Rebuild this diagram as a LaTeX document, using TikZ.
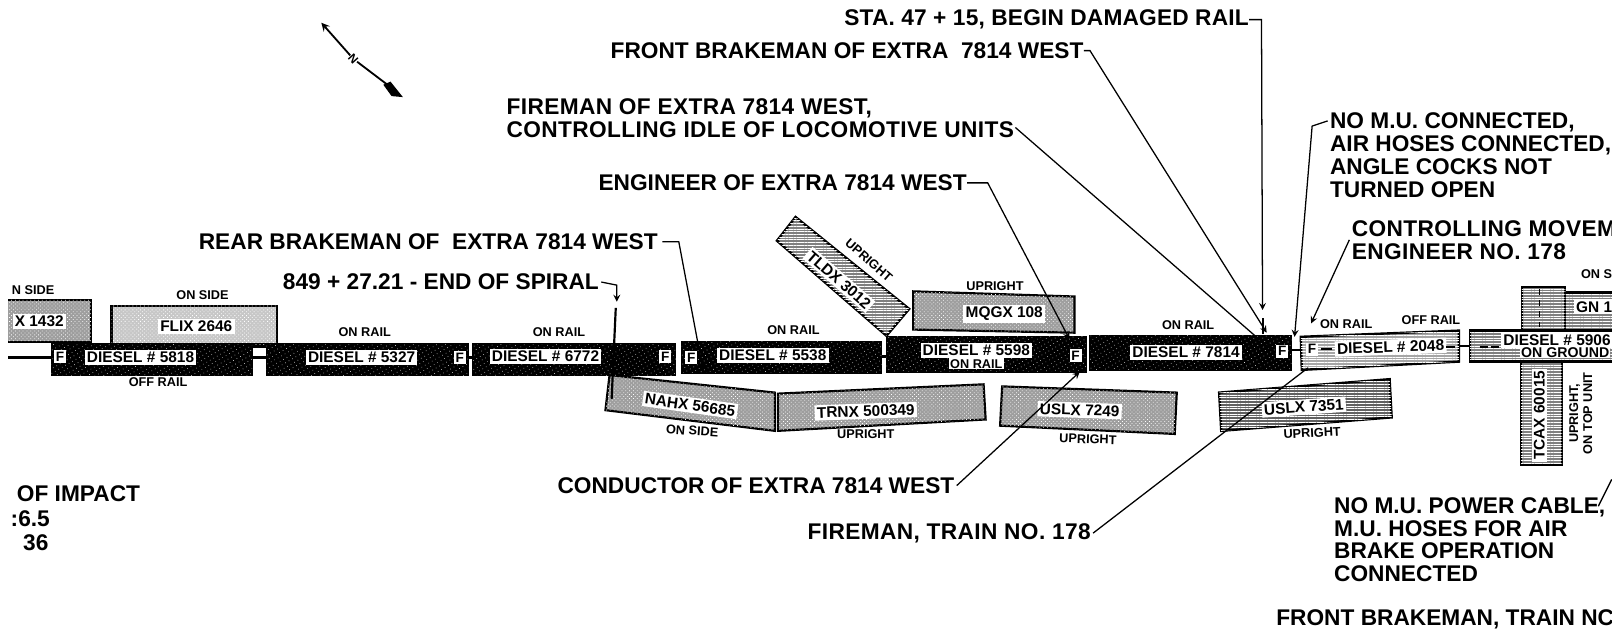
\documentclass[tikz,border=0pt]{standalone}
\usepackage{fontspec}
\usetikzlibrary{patterns.meta}
\setmainfont{Liberation Sans}
\begin{document}
\begin{tikzpicture}[x=0.02cm, y=-0.02cm, font=\bfseries,
  lbl/.style={inner sep=0pt, align=left, font=\bfseries\fontsize{12.5}{12.6}\selectfont},
  wide/.style={lbl, font=\bfseries\fontsize{12.5}{12.6}\selectfont\addfontfeature{LetterSpace=1.7}},
  stat/.style={inner sep=0pt, align=center, font=\bfseries\fontsize{7}{7.6}\selectfont},
  tag/.style={fill=white, inner sep=1.2pt, font=\bfseries\fontsize{8.5}{8.7}\selectfont},
  fbox/.style={fill=white, inner sep=1pt, font=\bfseries\fontsize{7.5}{8}\selectfont},
  dark/.style={draw=black, line width=0.8pt, fill=black,
               postaction={pattern={Dots[radius=0.22pt, distance=2.2pt, angle=30]}, pattern color=white}},
  shade/.style={draw=black, line width=1.2pt, fill=black!38,
                postaction={pattern={Dots[radius=0.3pt, distance=1.5pt, angle=45]}, pattern color=white}},
  pale/.style={draw=black, line width=1.2pt, fill=black!22,
               postaction={pattern={Dots[radius=0.32pt, distance=1.5pt, angle=45]}, pattern color=white}},
  hatch/.style={draw=black, line width=1.3pt, fill=black!50,
                postaction={pattern={Lines[distance=1.5pt, line width=0.5pt]}, pattern color=white}},
  lead/.style={draw=black, line width=0.7pt},
]
  \useasboundingbox (0,0) rectangle (1568,622.3);

  % rail and couplings
  \draw[line width=1.3pt] (8,346) -- (50,346);
  \draw[line width=1.3pt] (244,346) -- (258,346);
  \fill (244,333) rectangle (258,337);
  \draw[line width=1.3pt] (1250,339) -- (1260,339);
  \draw[line width=1.3pt] (1412,335) -- (1424,335);
  \draw[line width=1.3pt] (453,346) -- (458,346);
  \draw[line width=1.3pt] (853,345) -- (858,345);

  % derailed cars
  \draw[shade] (8,290) -- (88,290) -- (88,331) -- (8,331);
  \node[tag] (x1432) at (38,311) {X 1432};
  \node[stat] (s1432) at (32,281) {N SIDE};
  \draw[pale] (108,296) rectangle (268,333);
  \node[tag] (flix) at (190,316) {FLIX 2646};
  \node[stat] (sflix) at (196,286) {ON SIDE};
  \draw[hatch] (770,210) -- (880,299) -- (858,325) -- (752,233) -- cycle;
  \node[tag, rotate=-41] (tldx) at (812,271) {TLDX 3012};
  \node[stat, rotate=-41] (stldx) at (841,252) {UPRIGHT};
  \draw[shade] (884,282) -- (1040,287) -- (1040,322) -- (884,319) -- cycle;
  \node[tag] (mqgx) at (972,304) {MQGX 108};
  \node[stat] (smqgx) at (963,277) {UPRIGHT};
  \draw[shade] (590,363) -- (750,380) -- (750,417) -- (586,397) -- cycle;
  \node[tag, rotate=-8] (nahx) at (668,392) {NAHX 56685};
  \node[stat, rotate=-4] (snahx) at (670,417) {ON SIDE};
  \draw[shade] (753,381) -- (952,372) -- (954,406) -- (753,417) -- cycle;
  \node[tag, rotate=2] (trnx) at (838,398) {TRNX 500349};
  \node[stat] (strnx) at (838,420) {UPRIGHT};
  \draw[shade] (970,374) -- (1139,380) -- (1137,420) -- (968,412) -- cycle;
  \node[tag, rotate=-2] (usa) at (1045,397) {USLX 7249};
  \node[stat, rotate=-2] (susa) at (1053,425) {UPRIGHT};
  \draw[hatch, fill=black!62] (1180,380) -- (1345,367) -- (1347,404) -- (1182,417) -- cycle;
  \node[tag, rotate=4] (usb) at (1262,394) {USLX 7351};
  \node[stat, rotate=3] (susb) at (1270,419) {UPRIGHT};

  % locomotives
  \draw[dark] (50,333) rectangle (244,363);
  \node[tag] (d5818) at (136,346) {DIESEL \# 5818};
  \node[fbox] (f5818) at (58,345) {F};
  \node[stat] (s5818) at (153,370) {OFF RAIL};
  \draw[dark] (258,333) rectangle (453,363);
  \node[tag] (d5327) at (350,346) {DIESEL \# 5327};
  \node[fbox] (f5327) at (445,346) {F};
  \node[stat] (s5327) at (353,321) {ON RAIL};
  \draw[dark] (458,333) rectangle (654,363);
  \node[tag] (d6772) at (528,345) {DIESEL \# 6772};
  \node[fbox] (f6772) at (644,345) {F};
  \node[stat] (s6772) at (541,321) {ON RAIL};
  \draw[dark] (660,331) rectangle (853,361);
  \node[tag] (d5538) at (748,344) {DIESEL \# 5538};
  \node[fbox] (f5538) at (669,346) {F};
  \node[stat] (s5538) at (768,320) {ON RAIL};
  \draw[dark] (858,326) rectangle (1051,360);
  \node[tag] (d5598) at (945,339) {DIESEL \# 5598};
  \node[tag, inner sep=0.6pt, font=\bfseries\fontsize{7}{7.6}\selectfont] (s5598) at (945,352) {ON RAIL};
  \node[fbox] (f5598) at (1041,344) {F};
  \draw[dark] (1055,325) rectangle (1250,358);
  \node[tag] (d7814) at (1148,341) {DIESEL \# 7814};
  \node[fbox] (f7814) at (1241,340) {F};
  \node[stat] (s7814) at (1150,315) {ON RAIL};
  \draw[hatch, fill=black!35] (1259,326) -- (1412,320) -- (1412,350) -- (1260,358) -- cycle;
  \node[tag, rotate=2] (d2048) at (1346,336) {DIESEL \# 2048};
  \node[fbox] (f2048) at (1270,338) {F};
  \node[stat] (s2048) at (1303,314) {ON RAIL};
  \node[stat] (t2048) at (1385,310) {OFF RAIL};
  \draw[line width=1.2pt] (1279,338) -- (1289,338);
  \draw[line width=1.2pt] (1400,336) -- (1408,336);

  % pile-up at the right
  \draw[hatch] (1483,283) rectangle (1575,325);
  \node[tag] (gn) at (1543,297) {GN 1};
  \node[stat] (sgn) at (1547,265) {ON SI};
  \draw[hatch] (1473,278) rectangle (1515,320);
  \draw[dashed, line width=1pt] (1490,280) -- (1490,318);
  \draw[hatch] (1472,350) rectangle (1512,450);
  \node[tag, rotate=90] (tcax) at (1490,402) {TCAX 60015};
  \node[stat, rotate=90] (stcax) at (1530,400) {UPRIGHT,\\ON TOP UNIT};
  \draw[hatch] (1423,320) rectangle (1575,350);
  \draw[line width=1.2pt] (1432,336) -- (1440,336);
  \draw[line width=1.2pt] (1443,336) -- (1451,336);
  \node[tag] (d5906) at (1507,329) {DIESEL \# 5906};
  \node[tag, inner sep=0.6pt, font=\bfseries\fontsize{7.8}{8}\selectfont] (g5906) at (1515,341) {ON GROUND};

  % captions
  \node[lbl, anchor=east, font=\bfseries\fontsize{12.5}{12.6}\selectfont\addfontfeature{LetterSpace=0.8}] (sta) at (1209,19) {STA. 47 + 15, BEGIN DAMAGED RAIL};
  \node[lbl, anchor=east] (fbr) at (1049,49) {FRONT BRAKEMAN OF EXTRA \ 7814 WEST};
  \node[wide, anchor=north west] (fir) at (490,95) {FIREMAN OF EXTRA 7814 WEST,\\CONTROLLING IDLE OF LOCOMOTIVE UNITS};
  \node[lbl, anchor=east] (eng) at (936,177) {ENGINEER OF EXTRA 7814 WEST};
  \node[lbl, anchor=east] (rbr) at (637,234) {REAR BRAKEMAN OF \ EXTRA 7814 WEST};
  \node[lbl, anchor=east] (spi) at (580,273) {849 + 27.21 - END OF SPIRAL};
  \node[lbl, anchor=north west] (nmu) at (1287,109) {NO M.U. CONNECTED,\\AIR HOSES CONNECTED,\\ANGLE COCKS NOT\\TURNED OPEN};
  \node[wide, anchor=north west] (con) at (1308,213) {CONTROLLING MOVEM\\ENGINEER NO. 178};
  \node[lbl, anchor=north west] (imp) at (16,470) {OF IMPACT};
  \node[lbl, anchor=west] (ims) at (10,502) {:6.5};
  \node[lbl, anchor=west] (imt) at (16,525) {\ 36};
  \node[lbl, anchor=east] (cnd) at (924,470) {CONDUCTOR OF EXTRA 7814 WEST};
  \node[wide, anchor=east] (ftn) at (1056,516) {FIREMAN, TRAIN NO. 178};
  \node[lbl, anchor=north west] (pwr) at (1291,481) {NO M.U. POWER CABLE,\\M.U. HOSES FOR AIR\\BRAKE OPERATION\\CONNECTED};
  \node[lbl, anchor=west] (fbt) at (1235,599) {FRONT BRAKEMAN, TRAIN NC};

  % leader lines
  \coordinate (ista) at (1222,300);
  \coordinate (istb) at (1222,323);
  \coordinate (ifbr) at (1226,322);
  \coordinate (ifir) at (1232,340);
  \coordinate (ieng) at (1035,328);
  \coordinate (irbr) at (680,356);
  \coordinate (ispa) at (597,292);
  \coordinate (ispb) at (592,386);
  \coordinate (inmu) at (1253,326);
  \coordinate (icon) at (1269,313);
  \coordinate (icnd) at (1045,360);
  \coordinate (iftn) at (1266,356);
  \coordinate (ipwr) at (1560,464);
  \draw[lead, -stealth] (sta.east) -- ++(12,0) -- (ista);
  \draw[lead, line width=1.1pt] (1222,308) -- (istb);
  \draw[lead, -stealth] (fbr.east) -- ++(6,0) -- (ifbr);
  \draw[lead] (fir.south east) ++(1,-10) -- (ifir);
  \draw[lead, -stealth] (eng.east) -- ++(20,0) -- (ieng);
  \draw[lead] (rbr.east) ++(4,0) -- ++(16,0) -- (irbr);
  \draw[lead, -stealth] (spi.east) ++(2,0) -- ++(15,3) -- (ispa);
  \draw[lead, line width=1.2pt] (596,298) -- (ispb);
  \draw[lead, -stealth] (1285,117) -- (1270,122) -- (inmu);
  \draw[lead, -stealth] (con.west) ++(-2,0) -- (icon);
  \draw[lead, -stealth] (cnd.east) ++(2,0) -- (icnd);
  \draw[lead] (ftn.east) ++(2,0) -- (iftn);
  \draw[lead] (1547,490) -- (ipwr);

  % north arrow
  \coordinate (ntip) at (311,22);
  \coordinate (nend) at (375,82);
  \node[inner sep=0pt, rotate=-48, font=\bfseries\fontsize{6.5}{7}\selectfont] (nlbl) at (342,57) {N};
  \draw[line width=1pt, stealth-] (ntip) -- (nlbl);
  \draw[line width=1pt] (nlbl) -- (nend);
  \fill (371,82) -- (378,79) -- (390,94) -- (379,93) -- cycle;

  % page edges
  \fill[white] (0,0) rectangle (8,622.3);
  \fill[white] (1560,0) rectangle (1568,622.3);
\end{tikzpicture}
\end{document}
